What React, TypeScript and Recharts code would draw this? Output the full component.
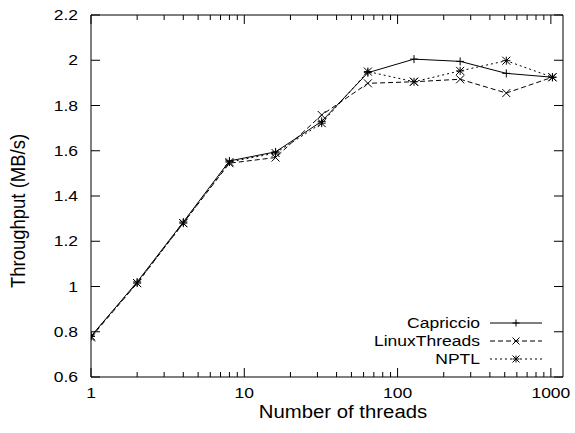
import React from "react";
import { LineChart, Line, XAxis, YAxis, Legend } from "recharts";

// threads per run (log x axis)
const threads = [1, 2, 4, 8, 16, 32, 64, 128, 256, 512, 1024];

// throughput in MB/s
const capriccio = [0.78, 1.02, 1.285, 1.555, 1.595, 1.73, 1.945, 2.005, 1.995, 1.942, 1.925];
const linuxThreads = [0.775, 1.015, 1.28, 1.545, 1.57, 1.758, 1.898, 1.905, 1.916, 1.855, 1.925];
const nptl = [0.78, 1.015, 1.28, 1.55, 1.59, 1.722, 1.95, 1.905, 1.953, 1.998, 1.925];

const xMajorTicks = [1, 10, 100, 1000];
const xMinorTicks = [2, 3, 4, 5, 6, 7, 8, 9, 20, 30, 40, 50, 60, 70, 80, 90, 200, 300, 400, 500, 600, 700, 800, 900];
const yTicks = [0.6, 0.8, 1, 1.2, 1.4, 1.6, 1.8, 2, 2.2];

const data = threads.map((t, i) => ({
    threads: t,
    capriccio: capriccio[i],
    linuxThreads: linuxThreads[i],
    nptl: nptl[i],
}));

type MarkerKind = "plus" | "cross" | "star";

const series: { key: string; name: string; dash?: string; marker: MarkerKind }[] = [
    { key: "capriccio", name: "Capriccio", marker: "plus" },
    { key: "linuxThreads", name: "LinuxThreads", dash: "5 3", marker: "cross" },
    { key: "nptl", name: "NPTL", dash: "2 3", marker: "star" },
];

const FONT = "Liberation Sans, Arial, Helvetica, sans-serif";
const STRETCH = 1.13; // original glyphs are a bit wider than tall

function markerPath(kind: MarkerKind, cx: number, cy: number, r: number) {
    const plus = `M${cx - r},${cy}H${cx + r}M${cx},${cy - r}V${cy + r}`;
    const cross = `M${cx - r},${cy - r}L${cx + r},${cy + r}M${cx - r},${cy + r}L${cx + r},${cy - r}`;
    if (kind === "plus") return plus;
    if (kind === "cross") return cross;
    return plus + cross;
}

const SText = ({ x, y, anchor, size, rotate, children }: any) => (
    <text
        transform={`translate(${x},${y}) scale(${STRETCH},1)${rotate ? " rotate(-90)" : ""}`}
        textAnchor={anchor}
        dominantBaseline="central"
        fontSize={size}
        fontFamily={FONT}
        fill="#000"
    >
        {children}
    </text>
);

const XTick = ({ x, y, payload, side }: any) => {
    const major = xMajorTicks.includes(payload.value);
    const len = major ? 9 : 5;
    const dir = side === "bottom" ? -1 : 1;
    return (
        <g>
            <line x1={x} y1={y} x2={x} y2={y + dir * len} stroke="#000" />
            {side === "bottom" && major && (
                <SText x={x} y={y + 16} anchor="middle" size={15.5}>
                    {payload.value}
                </SText>
            )}
        </g>
    );
};

const YTick = ({ x, y, payload, side }: any) => {
    const dir = side === "left" ? 1 : -1;
    return (
        <g>
            <line x1={x} y1={y} x2={x + dir * 9} y2={y} stroke="#000" />
            {side === "left" && (
                <SText x={x - 13} y={y} anchor="end" size={15.5}>
                    {String(payload.value)}
                </SText>
            )}
        </g>
    );
};

const LegendBox = () => (
    <svg width={200} height={60}>
        {series.map((s, i) => {
            const y = 11 + i * 18;
            return (
                <g key={s.key}>
                    <SText x={120} y={y} anchor="end" size={15.5}>
                        {s.name}
                    </SText>
                    <line x1={130} y1={y} x2={182} y2={y} stroke="#000" strokeDasharray={s.dash} />
                    <path d={markerPath(s.marker, 156, y, 3.5)} stroke="#000" fill="none" />
                </g>
            );
        })}
    </svg>
);

const App: React.FC = () => {
    return (
        <div style={{ position: "absolute", left: 0, top: 0, background: "#fff" }}>
            <LineChart width={575} height={433} data={data} margin={{ top: 14, right: 11, bottom: 16, left: 31 }}>
                <XAxis
                    dataKey="threads"
                    type="number"
                    scale="log"
                    domain={[1, 1200]}
                    allowDataOverflow
                    ticks={[...xMajorTicks, ...xMinorTicks]}
                    interval={0}
                    height={40}
                    tickSize={0}
                    tickMargin={0}
                    tickLine={false}
                    axisLine={{ stroke: "#000" }}
                    tick={(p: any) => <XTick {...p} side="bottom" />}
                    label={(p: any) => {
                        const vb = p.viewBox;
                        return (
                            <SText x={vb.x + vb.width / 2 + 16} y={vb.y + 35} anchor="middle" size={18}>
                                Number of threads
                            </SText>
                        );
                    }}
                />
                <XAxis
                    xAxisId="top"
                    orientation="top"
                    dataKey="threads"
                    type="number"
                    scale="log"
                    domain={[1, 1200]}
                    allowDataOverflow
                    ticks={[...xMajorTicks, ...xMinorTicks]}
                    interval={0}
                    height={1}
                    tickSize={0}
                    tickMargin={0}
                    tickLine={false}
                    axisLine={{ stroke: "#000" }}
                    tick={(p: any) => <XTick {...p} side="top" />}
                />
                <YAxis
                    type="number"
                    domain={[0.6, 2.2]}
                    allowDataOverflow
                    ticks={yTicks}
                    interval={0}
                    width={60}
                    tickSize={0}
                    tickMargin={0}
                    tickLine={false}
                    axisLine={{ stroke: "#000" }}
                    tick={(p: any) => <YTick {...p} side="left" />}
                    label={(p: any) => {
                        const vb = p.viewBox;
                        return (
                            <SText x={18} y={vb.y + vb.height / 2 + 15} anchor="middle" size={18.5} rotate>
                                Throughput (MB/s)
                            </SText>
                        );
                    }}
                />
                <YAxis
                    yAxisId="right"
                    orientation="right"
                    type="number"
                    domain={[0.6, 2.2]}
                    allowDataOverflow
                    ticks={yTicks}
                    interval={0}
                    width={1}
                    tickSize={0}
                    tickMargin={0}
                    tickLine={false}
                    axisLine={{ stroke: "#000" }}
                    tick={(p: any) => <YTick {...p} side="right" />}
                />
                <Legend
                    layout="vertical"
                    align="center"
                    verticalAlign="middle"
                    content={() => <LegendBox />}
                    wrapperStyle={{ left: 360, top: 312, width: 200, height: 60 }}
                />
                {series.map((s) => (
                    <Line
                        key={s.key}
                        dataKey={s.key}
                        name={s.name}
                        type="linear"
                        stroke="#000"
                        strokeWidth={1}
                        strokeDasharray={s.dash}
                        isAnimationActive={false}
                        dot={(p: any) => (
                            <path
                                key={`${s.key}-${p.index}`}
                                d={markerPath(s.marker, p.cx, p.cy, 4)}
                                stroke="#000"
                                fill="none"
                            />
                        )}
                        activeDot={false}
                    />
                ))}
            </LineChart>
        </div>
    );
};

export default App;
